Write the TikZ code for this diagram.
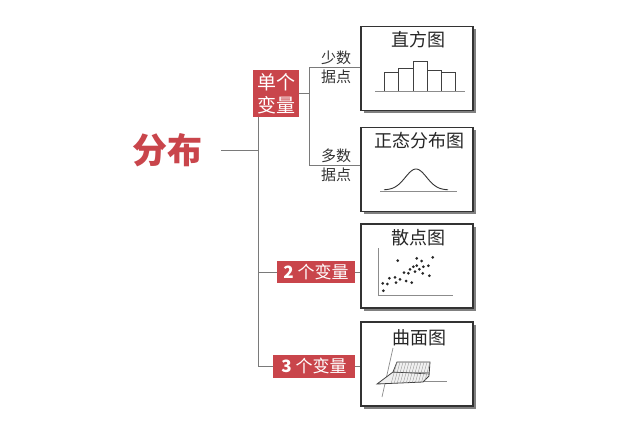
\documentclass[tikz,border=0pt]{standalone}
\usepackage{fontspec}
\setmainfont{Noto Sans CJK SC}
\usetikzlibrary{shadows}
\definecolor{redc}{HTML}{C9454B}
\definecolor{linec}{HTML}{7A7A7A}
\definecolor{boxc}{HTML}{333333}
\begin{document}
\begin{tikzpicture}[x=1pt,y=-1pt,
  conn/.style={draw=linec,line width=0.9pt},
  chart/.style={draw=boxc,line width=1.3pt,fill=white,minimum width=112pt,minimum height=84pt,inner sep=0pt,
    drop shadow={shadow xshift=2.5pt,shadow yshift=-2.5pt,fill=black!50,opacity=1}},
  redbox/.style={fill=redc,text=white,inner sep=0pt,align=center},
  ctitle/.style={text=black!85,font=\fontsize{18}{20}\selectfont,inner sep=0pt},
  small/.style={text=black!80,font=\fontsize{15}{20}\selectfont,align=center,inner sep=0pt},
  axis/.style={draw=black!45,line width=0.8pt},
  dot/.style={fill=black!85}]
\useasboundingbox (0,0) rectangle (640,425);
\fill[white] (0,0) rectangle (640,425);

% boxes
\node[chart] (b1) at (417,68.5) {};
\node[chart] (b2) at (417,169.5) {};
\node[chart] (b3) at (417,266) {};
\node[chart] (b4) at (417,364) {};

% main title
\node[text=redc,font=\fontsize{35}{40}\selectfont\bfseries,inner sep=0pt] (t) at (167,150) {分布};

% red labels
\node[redbox,minimum width=46pt,minimum height=47pt,font=\fontsize{19}{23}\selectfont] (u) at (276,93.5) {单个\\变量};
\node[redbox,minimum width=78pt,minimum height=22pt,font=\fontsize{17}{20}\selectfont] (v2) at (316,272) {\textbf{2} 个变量};
\node[redbox,minimum width=82pt,minimum height=23pt,font=\fontsize{17}{20}\selectfont] (v3) at (314,366) {\textbf{3} 个变量};

% junction coordinates
\coordinate (tr) at (258,0);
\coordinate (br) at (309,0);
\coordinate (j1) at (336,67.5);
\coordinate (j2) at (336,165.5);

% connectors
\draw[conn,shorten <=19pt] (t.east) -- (tr |- t.east);
\draw[conn] (u.south -| tr) -- (tr |- v3);
\draw[conn] (tr |- v2) -- (v2.west);
\draw[conn] (tr |- v3) -- (v3.west);
\draw[conn] (v2.east) -- (v2.east -| b3.west);
\draw[conn] (v3.east) -- (v3.east -| b4.west);
\draw[conn] (u.east) -- (br |- u.east);
\draw[conn] (br |- j1) -- (br |- j2);
\draw[conn] (br |- j1) -- (j1 -| b1.west);
\draw[conn] (br |- j2) -- (j2 -| b2.west);

% small labels (text sits above and below the line)
\node[small] (l1) at (j1) {少数\\[-1pt]据点};
\node[small] (l2) at (j2) {多数\\[-1pt]据点};

% box titles
\node[ctitle] (h1) at (418,40) {直方图};
\node[ctitle] (h2) at (419,141) {正态分布图};
\node[ctitle] (h3) at (418,238) {散点图};
\node[ctitle] (h4) at (419,338) {曲面图};

% histogram
\draw[axis] (375,91) -- (465,91);
\begin{scope}[draw=black!75,line width=0.9pt]
\draw (384,91) -- (384,72) -- (398,72) -- (398,91);
\draw (398,91) -- (398,68) -- (413,68) -- (413,91);
\draw (413,91) -- (413,61) -- (427,61) -- (427,91);
\draw (427,91) -- (427,70) -- (441,70) -- (441,91);
\draw (441,91) -- (441,72) -- (455,72) -- (455,91);
\end{scope}

% normal curve
\draw[axis] (380,191) -- (457,191);
\draw[black!80,line width=0.9pt,smooth,samples=60,domain=384:448] plot (\x,{190-21*exp(-((\x-416)/15)^2)});

% scatter
\draw[axis] (378,248) -- (378,295) -- (453,295);
\foreach \p in {(383.3,290.7),(382.7,283.3),(387.3,284),(389.3,278.3),(395,277.3),(396,282.7),(400,279.3),(397.7,260.7),(404,272.7),(406,281),(408.3,273.3),(410,269.3),(411.7,282.7),(413.3,266.7),(415,271.7),(416.7,258.3),(416.7,265.7),(419.3,269.3),(421.7,261),(422.7,273.3),(423.3,266.7),(428.3,265.7),(429.3,275.7),(432.7,257.3)}
  \fill[dot] \p circle (1.5pt);

% surface
\draw[axis,line width=0.7pt] (393,348) -- (382,397);
\draw[axis,line width=0.7pt] (380,381) -- (447,381);
\filldraw[fill=black!6,draw=black!75,line width=0.8pt] (397,362) -- (393,372) -- (377,384) -- (423,382) -- (429,376) -- (430,362) -- cycle;
\begin{scope}
\clip (397,362) -- (393,372) -- (377,384) -- (423,382) -- (429,376) -- (430,362) -- cycle;
\foreach \x in {397,400,...,430} \draw[black!40,line width=0.4pt] (\x,362) -- (\x-6,384);
\draw[black!40,line width=0.4pt] (393,372) -- (429,372);
\end{scope}
\draw[black!75,line width=0.6pt] (393,372) -- (429,374);
\end{tikzpicture}
\end{document}
